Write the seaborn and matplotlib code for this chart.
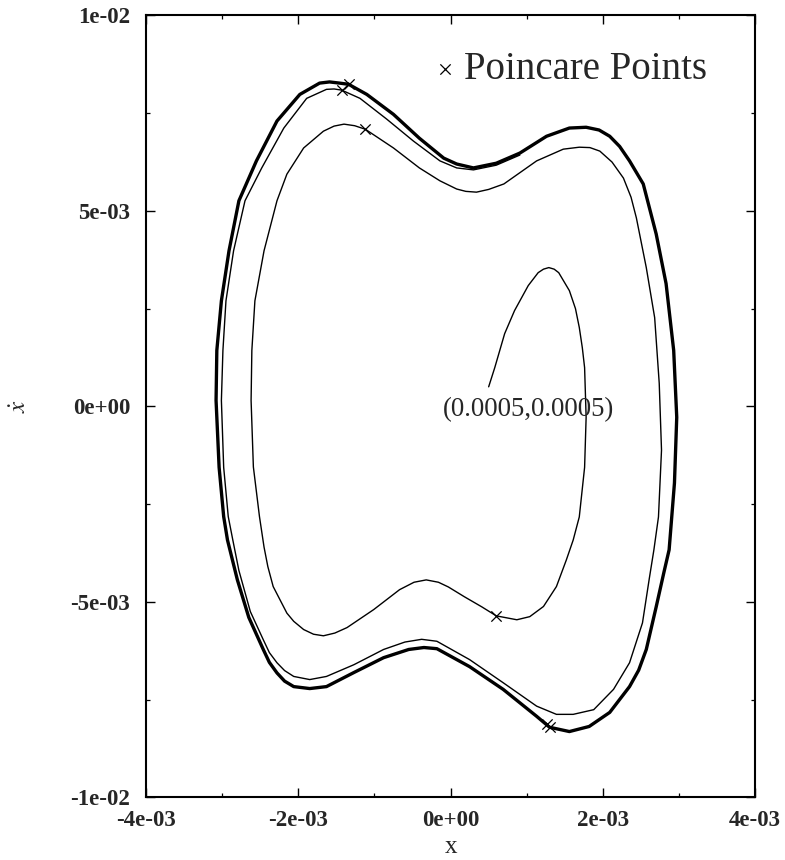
import numpy as np
import pandas as pd
import seaborn as sns
import matplotlib
matplotlib.use("Agg")
import matplotlib.pyplot as plt
from matplotlib.ticker import MultipleLocator, FormatStrFormatter

# ---- data (in units of 1e-3) ----
traj_x = [0.50, 0.58, 0.71, 0.84, 1.02, 1.15, 1.22, 1.29, 1.36, 1.42, 1.56, 1.64, 1.69, 1.73, 1.76,
          1.78, 1.76, 1.69, 1.61, 1.52, 1.39, 1.22, 1.04, 0.87, 0.60, 0.41, 0.18, -0.03, -0.16,
          -0.32, -0.48, -0.67, -1.01, -1.36, -1.52, -1.67, -1.80, -1.93, -2.06, -2.15, -2.33,
          -2.40, -2.45, -2.51, -2.59, -2.62, -2.61, -2.57, -2.45, -2.28, -2.15, -1.93, -1.67,
          -1.53, -1.40, -1.26, -1.12, -0.75, -0.41, -0.14, 0.08, 0.20, 0.34, 0.50, 0.70, 1.13,
          1.48, 1.69, 1.83, 1.96, 2.12, 2.27, 2.37, 2.44, 2.57, 2.68, 2.74, 2.77, 2.73, 2.67, 2.61,
          2.52, 2.35, 2.14, 1.88, 1.61, 1.39, 1.13, 0.69, 0.25, -0.18, -0.38, -0.60, -0.88, -1.27,
          -1.63, -1.85, -2.06, -2.18, -2.28, -2.38, -2.46, -2.63, -2.78, -2.86, -2.92, -2.98, -3.01, -2.99,
          -2.95, -2.85, -2.70, -2.48, -2.19, -1.89, -1.63, -1.53, -1.43, -1.19, -0.84, -0.49,
          -0.14, 0.08, 0.30, 0.60, 0.91]
traj_y = [0.50, 0.99, 1.86, 2.45, 3.09, 3.42, 3.51, 3.55, 3.51, 3.42, 2.96, 2.50, 2.02, 1.50, 0.99,
          -0.28, -1.56, -2.83, -3.42, -3.93, -4.61, -5.12, -5.38, -5.46, -5.36, -5.13, -4.87, -4.62, -4.50,
          -4.44, -4.50, -4.69, -5.20, -5.66, -5.80, -5.87, -5.83, -5.71, -5.50, -5.29, -4.61,
          -4.10, -3.60, -2.82, -1.55, 0.15, 1.43, 2.70, 3.98, 5.26, 5.94, 6.61, 7.04,
          7.17, 7.22, 7.18, 7.09, 6.61, 6.10, 5.77, 5.56, 5.50, 5.48, 5.55, 5.69, 6.28,
          6.58, 6.63, 6.62, 6.53, 6.25, 5.84, 5.35, 4.82, 3.55, 2.27, 0.59, -1.12, -2.83, -3.67, -4.40,
          -5.54, -6.56, -7.24, -7.76, -7.88, -7.88, -7.67, -7.07, -6.48, -6.01, -5.96, -6.03, -6.22, -6.61,
          -6.91, -6.99, -6.91, -6.76, -6.56, -6.30, -5.97, -5.25, -4.20, -3.42, -2.82, -1.56, 0.15, 1.43,
          2.70, 3.98, 5.26, 6.10, 7.12, 7.88, 8.11, 8.12, 8.09, 7.88, 7.35, 6.79,
          6.28, 6.10, 6.05, 6.17, 6.43]

cycle_x = [-1.34, -1.10, -0.75, -0.41, -0.09, 0.08, 0.30, 0.60, 0.91, 1.26, 1.56, 1.78, 1.95, 2.09,
           2.22, 2.35, 2.53, 2.70, 2.83, 2.93, 2.97, 2.94, 2.87, 2.80, 2.70, 2.57, 2.47, 2.35, 2.09,
           1.82, 1.56, 1.30, 1.13, 0.69, 0.25, -0.18, -0.35, -0.55, -0.88, -1.27, -1.63, -1.85,
           -2.06, -2.18, -2.28, -2.38, -2.46, -2.65, -2.80, -2.93, -2.98, -3.04, -3.08, -3.07, -3.01, -2.91,
           -2.78, -2.55, -2.28, -1.98, -1.72, -1.59, -1.46, -1.34]
cycle_y = [8.24, 7.98, 7.47, 6.86, 6.35, 6.20, 6.10, 6.22, 6.48, 6.91, 7.12, 7.14, 7.07, 6.91,
           6.65, 6.28, 5.69, 4.41, 3.14, 1.43, -0.28, -1.96, -3.67, -4.26, -5.13, -6.22, -6.75, -7.17, -7.83,
           -8.19, -8.32, -8.21, -7.93, -7.24, -6.66, -6.20, -6.17, -6.22, -6.43, -6.81, -7.17, -7.22,
           -7.17, -7.03, -6.82, -6.55, -6.22, -5.40, -4.44, -3.42, -2.82, -1.56, 0.15, 1.43, 2.70, 3.98,
           5.26, 6.28, 7.30, 7.98, 8.27, 8.30, 8.27, 8.24]

poincare_x = [0.60, -1.12, -1.43, -1.34, 1.27, 1.30]
poincare_y = [-5.36, 7.09, 8.09, 8.24, -8.12, -8.21]

start_label = "(0.0005,0.0005)"
x_ticks = [-4, -2, 0, 2, 4]
y_ticks = [-10, -5, 0, 5, 10]

S = 1e-3

# ---- style ----
sns.set_style("ticks")
plt.rcParams["font.family"] = ["Liberation Serif", "DejaVu Serif"]
plt.rcParams["mathtext.fontset"] = "stix"
plt.rcParams["lines.solid_joinstyle"] = "round"

fig = plt.figure(figsize=(7.85, 8.6), dpi=100)
ax = fig.add_axes([0.186, 0.073, 0.776, 0.909])

sns.lineplot(x=np.array(traj_x) * S, y=np.array(traj_y) * S, sort=False, estimator=None,
             color="black", lw=1.0, ax=ax)
sns.lineplot(x=np.array(cycle_x) * S, y=np.array(cycle_y) * S, sort=False, estimator=None,
             color="black", lw=2.4, ax=ax)
sns.scatterplot(x=np.array(poincare_x) * S, y=np.array(poincare_y) * S, marker="x", s=55,
                color="black", linewidth=0.9, ax=ax, label="Poincare Points", zorder=5)

ax.text(-0.10 * S, -0.25 * S, start_label, fontsize=19.3, ha="left", va="baseline")

ax.set_xlim(-4 * S, 4 * S)
ax.set_ylim(-10 * S, 10 * S)
ax.set_xticks(np.array(x_ticks) * S)
ax.set_yticks(np.array(y_ticks) * S)
ax.xaxis.set_minor_locator(MultipleLocator(1 * S))
ax.yaxis.set_minor_locator(MultipleLocator(2.5 * S))
ax.xaxis.set_major_formatter(FormatStrFormatter("%.0e"))
ax.yaxis.set_major_formatter(FormatStrFormatter("%.0e"))
ax.tick_params(which="both", direction="in", top=True, right=True, color="black")
ax.tick_params(which="major", length=6.5, width=1.0)
ax.tick_params(which="minor", length=3.2, width=0.9)
ax.tick_params(axis="x", which="major", pad=9.5)
ax.tick_params(axis="y", which="major", pad=11.5)
for lab in ax.get_xticklabels() + ax.get_yticklabels():
    lab.set_fontweight("bold")
    lab.set_fontsize(16.5)
for sp in ax.spines.values():
    sp.set_visible(True)
    sp.set_linewidth(1.5)
    sp.set_color("black")

ax.set_xlabel("x", fontsize=18, labelpad=3)
ax.set_ylabel(r"$\dot{x}$", fontsize=18, labelpad=28)

h, l = ax.get_legend_handles_labels()
leg = ax.legend(h, l, loc="upper right", bbox_to_anchor=(0.921, 0.954), frameon=False,
                fontsize=28, handlelength=0.5, handletextpad=0.25, borderpad=0,
                borderaxespad=0)

fig.savefig("out.png", dpi=100, facecolor="white")
